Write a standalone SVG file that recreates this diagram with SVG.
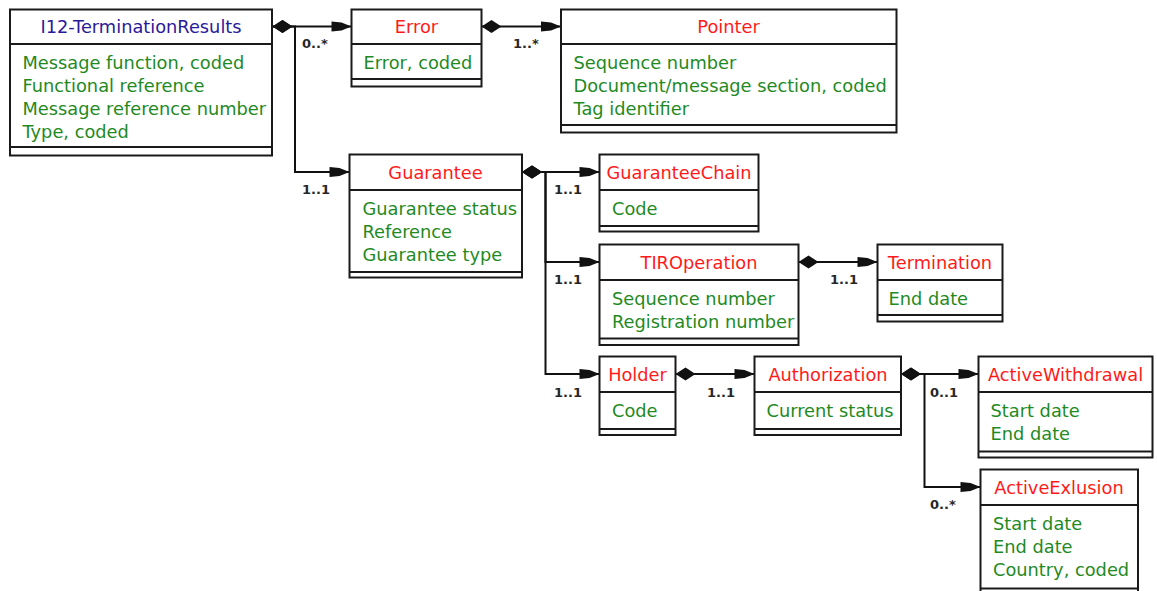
<svg xmlns="http://www.w3.org/2000/svg" width="1157" height="591" viewBox="0 0 1157 591">
<style>
  .box { fill: #ffffff; stroke: #1a1a1a; stroke-width: 2; }
  .sep { stroke: #1a1a1a; stroke-width: 2; fill: none; }
  .title { font-family: "DejaVu Sans", Verdana, sans-serif; font-size: 17.8px; fill: #ff1a1a; text-anchor: middle; }
  .root { fill: #2a1a9a; }
  .attr { font-family: "DejaVu Sans", Verdana, sans-serif; font-size: 17.8px; fill: #1f8a1f; }
  .conn { stroke: #111111; stroke-width: 2; fill: none; marker-start: url(#diamond); marker-end: url(#arrow); }
  .mult { font-family: "DejaVu Sans", Verdana, sans-serif; font-size: 13px; font-weight: bold; fill: #262626; }
</style>
<defs>
  <marker id="diamond" markerUnits="userSpaceOnUse" markerWidth="24" markerHeight="16" viewBox="-1 -8 24 16" refX="0" refY="0" orient="auto" overflow="visible">
    <path d="M0,0 L10,-6.5 L20,0 L10,6.5 Z" fill="#111111"/>
  </marker>
  <marker id="arrow" markerUnits="userSpaceOnUse" markerWidth="24" markerHeight="12" viewBox="-22 -6 24 12" refX="0" refY="0" orient="auto" overflow="visible">
    <path d="M-20,-5 L-10,-4 L0,0 L-10,4 L-20,5 Z" fill="#111111"/>
  </marker>
</defs>

<g id="connectors">
  <path class="conn" d="M272.5,26.5 H351.5"/>
  <path class="conn" d="M272.5,26.5 H295 V172 H349.5"/>
  <path class="conn" d="M481.5,26.5 H561"/>
  <path class="conn" d="M522,172 H599.5"/>
  <path class="conn" d="M522,172 H545.5 V262 H599.5"/>
  <path class="conn" d="M522,172 H545.5 V374 H599.5"/>
  <path class="conn" d="M798.5,262 H877.5"/>
  <path class="conn" d="M675.5,374 H754.5"/>
  <path class="conn" d="M901,374 H978.5"/>
  <path class="conn" d="M901,374 H924.5 V487 H980.5"/>
  <text class="mult" x="302" y="47.5">0..*</text>
  <text class="mult" x="302" y="194">1..1</text>
  <text class="mult" x="513" y="47.5">1..*</text>
  <text class="mult" x="554" y="194">1..1</text>
  <text class="mult" x="554" y="283.5">1..1</text>
  <text class="mult" x="554" y="396.5">1..1</text>
  <text class="mult" x="830" y="283.5">1..1</text>
  <text class="mult" x="707" y="396.5">1..1</text>
  <text class="mult" x="930" y="396.5">0..1</text>
  <text class="mult" x="930" y="508.5">0..*</text>
</g>

<g id="I12-TerminationResults">
  <rect class="box" x="10" y="9.5" width="262" height="146"/>
  <line class="sep" x1="10" y1="44" x2="272" y2="44"/>
  <line class="sep" x1="10" y1="147" x2="272" y2="147"/>
  <text class="title root" x="141" y="33">I12-TerminationResults</text>
  <text class="attr" x="22.5" y="68.5">Message function, coded</text>
  <text class="attr" x="22.5" y="91.5">Functional reference</text>
  <text class="attr" x="22.5" y="114.5">Message reference number</text>
  <text class="attr" x="22.5" y="137.5">Type, coded</text>
</g>

<g id="Error">
  <rect class="box" x="351.5" y="9.5" width="130" height="77"/>
  <line class="sep" x1="351.5" y1="44" x2="481.5" y2="44"/>
  <line class="sep" x1="351.5" y1="79" x2="481.5" y2="79"/>
  <text class="title" x="416.5" y="33">Error</text>
  <text class="attr" x="363.5" y="68.5">Error, coded</text>
</g>

<g id="Pointer">
  <rect class="box" x="561" y="9.5" width="335.5" height="123"/>
  <line class="sep" x1="561" y1="44" x2="896.5" y2="44"/>
  <line class="sep" x1="561" y1="125" x2="896.5" y2="125"/>
  <text class="title" x="728.5" y="33">Pointer</text>
  <text class="attr" x="573.5" y="68.5">Sequence number</text>
  <text class="attr" x="573.5" y="91.5">Document/message section, coded</text>
  <text class="attr" x="573.5" y="114.5">Tag identifier</text>
</g>

<g id="Guarantee">
  <rect class="box" x="349.5" y="154.5" width="172.5" height="123"/>
  <line class="sep" x1="349.5" y1="190" x2="522" y2="190"/>
  <line class="sep" x1="349.5" y1="272" x2="522" y2="272"/>
  <text class="title" x="435.5" y="178.5">Guarantee</text>
  <text class="attr" x="362.5" y="214.5">Guarantee status</text>
  <text class="attr" x="362.5" y="237.5">Reference</text>
  <text class="attr" x="362.5" y="260.5">Guarantee type</text>
</g>

<g id="GuaranteeChain">
  <rect class="box" x="599.5" y="154.5" width="159" height="77"/>
  <line class="sep" x1="599.5" y1="190" x2="758.5" y2="190"/>
  <line class="sep" x1="599.5" y1="226" x2="758.5" y2="226"/>
  <text class="title" x="679" y="178.5">GuaranteeChain</text>
  <text class="attr" x="612" y="214.5">Code</text>
</g>

<g id="TIROperation">
  <rect class="box" x="599.5" y="244.5" width="199" height="100.5"/>
  <line class="sep" x1="599.5" y1="280" x2="798.5" y2="280"/>
  <line class="sep" x1="599.5" y1="338.5" x2="798.5" y2="338.5"/>
  <text class="title" x="699" y="268.5">TIROperation</text>
  <text class="attr" x="612" y="304.5">Sequence number</text>
  <text class="attr" x="612" y="327.5">Registration number</text>
</g>

<g id="Termination">
  <rect class="box" x="877.5" y="244.5" width="125" height="77"/>
  <line class="sep" x1="877.5" y1="280" x2="1002.5" y2="280"/>
  <line class="sep" x1="877.5" y1="315" x2="1002.5" y2="315"/>
  <text class="title" x="940" y="268.5">Termination</text>
  <text class="attr" x="888.5" y="304.5">End date</text>
</g>

<g id="Holder">
  <rect class="box" x="599.5" y="356.5" width="76" height="78.5"/>
  <line class="sep" x1="599.5" y1="392" x2="675.5" y2="392"/>
  <line class="sep" x1="599.5" y1="429" x2="675.5" y2="429"/>
  <text class="title" x="637.5" y="380.5">Holder</text>
  <text class="attr" x="612" y="417">Code</text>
</g>

<g id="Authorization">
  <rect class="box" x="754.5" y="356.5" width="146.5" height="78.5"/>
  <line class="sep" x1="754.5" y1="392" x2="901" y2="392"/>
  <line class="sep" x1="754.5" y1="429" x2="901" y2="429"/>
  <text class="title" x="828" y="380.5">Authorization</text>
  <text class="attr" x="766.5" y="417">Current status</text>
</g>

<g id="ActiveWithdrawal">
  <rect class="box" x="978.5" y="356.5" width="174" height="101"/>
  <line class="sep" x1="978.5" y1="392" x2="1152.5" y2="392"/>
  <line class="sep" x1="978.5" y1="451.5" x2="1152.5" y2="451.5"/>
  <text class="title" x="1065.5" y="380.5">ActiveWithdrawal</text>
  <text class="attr" x="990.5" y="417">Start date</text>
  <text class="attr" x="990.5" y="440">End date</text>
</g>

<g id="ActiveExlusion">
  <rect class="box" x="980.5" y="469.5" width="157.5" height="130"/>
  <line class="sep" x1="980.5" y1="505" x2="1138" y2="505"/>
  <line class="sep" x1="980.5" y1="588.5" x2="1138" y2="588.5"/>
  <text class="title" x="1059" y="493.5">ActiveExlusion</text>
  <text class="attr" x="993" y="529.5">Start date</text>
  <text class="attr" x="993" y="552.5">End date</text>
  <text class="attr" x="993" y="575.5">Country, coded</text>
</g>
</svg>
